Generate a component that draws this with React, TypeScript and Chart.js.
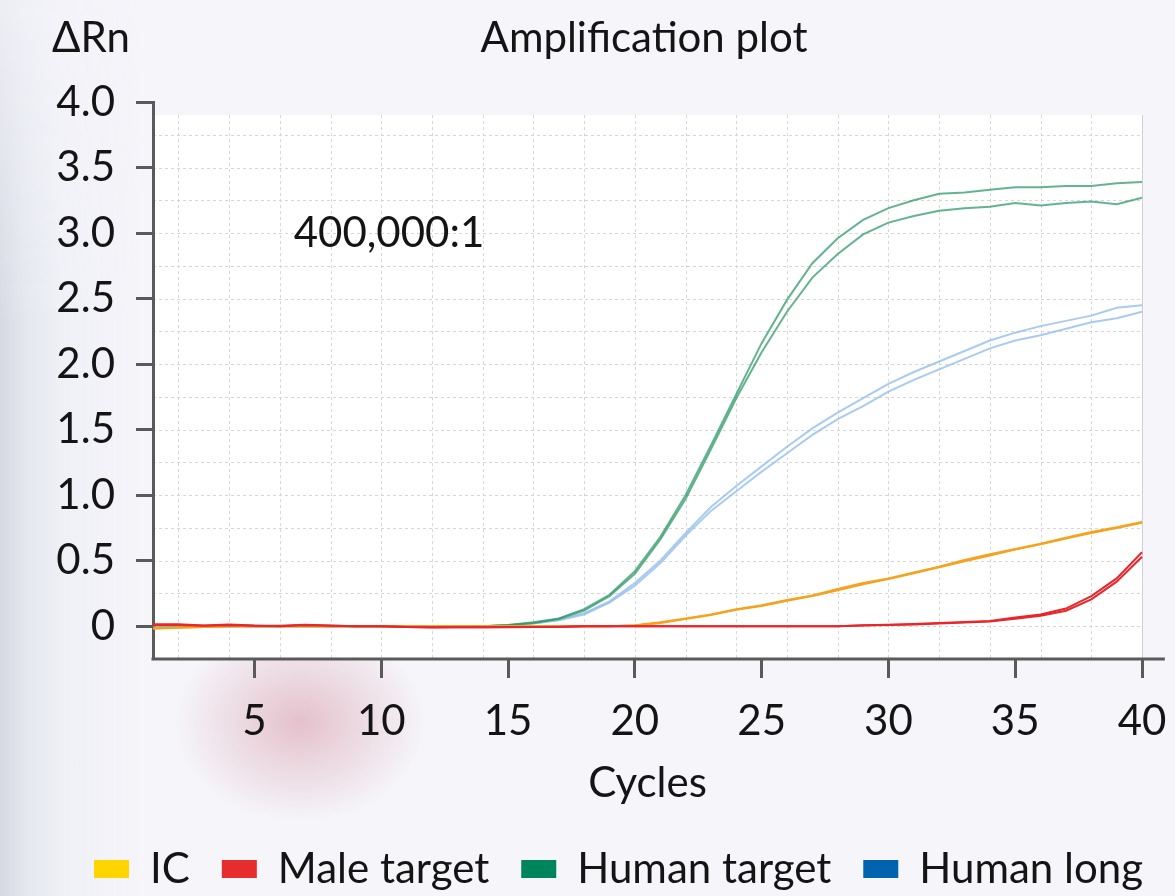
import React, { useEffect, useRef } from 'react';
import { Chart, registerables } from 'chart.js';

Chart.register(...registerables);

// ---------- data ----------
const cycles = [1, 2, 3, 4, 5, 6, 7, 8, 9, 10, 11, 12, 13, 14, 15, 16, 17, 18, 19, 20,
  21, 22, 23, 24, 25, 26, 27, 28, 29, 30, 31, 32, 33, 34, 35, 36, 37, 38, 39, 40];

const humanTargetA = [0.01, 0.01, 0.0, 0.005, 0.0, 0.0, 0.005, 0.0, 0.0, 0.0,
  0.0, -0.005, 0.0, 0.0, 0.01, 0.03, 0.06, 0.13, 0.24, 0.42,
  0.68, 1.0, 1.38, 1.77, 2.16, 2.49, 2.77, 2.96, 3.1, 3.19,
  3.25, 3.3, 3.31, 3.33, 3.35, 3.35, 3.36, 3.36, 3.38, 3.39];
const humanTargetB = [0.005, 0.005, 0.0, 0.0, 0.0, 0.0, 0.0, 0.0, 0.0, 0.0,
  0.0, -0.005, -0.005, 0.0, 0.008, 0.025, 0.055, 0.12, 0.23, 0.4,
  0.66, 0.97, 1.35, 1.74, 2.09, 2.4, 2.66, 2.84, 2.99, 3.08,
  3.13, 3.17, 3.19, 3.2, 3.23, 3.21, 3.23, 3.24, 3.22, 3.27];

const humanLongA = [0.01, 0.005, 0.0, 0.0, 0.0, 0.0, 0.0, 0.0, 0.0, 0.0,
  0.0, -0.005, 0.0, 0.0, 0.01, 0.02, 0.05, 0.1, 0.19, 0.33,
  0.5, 0.71, 0.91, 1.07, 1.22, 1.37, 1.51, 1.63, 1.74, 1.85,
  1.94, 2.02, 2.1, 2.18, 2.24, 2.29, 2.33, 2.37, 2.43, 2.45];
const humanLongB = [0.005, 0.0, 0.0, 0.0, 0.0, 0.0, 0.0, 0.0, 0.0, 0.0,
  0.0, -0.005, -0.005, 0.0, 0.005, 0.02, 0.045, 0.09, 0.18, 0.31,
  0.48, 0.69, 0.88, 1.03, 1.18, 1.32, 1.46, 1.58, 1.68, 1.79,
  1.88, 1.96, 2.04, 2.12, 2.18, 2.22, 2.27, 2.32, 2.35, 2.4];

const icA = [-0.02, -0.012, -0.005, 0.0, 0.0, 0.0, 0.0, 0.0, 0.0, 0.0,
  0.0, 0.0, 0.0, 0.0, 0.0, 0.0, 0.0, 0.0, 0.0, 0.008,
  0.03, 0.06, 0.09, 0.13, 0.16, 0.2, 0.235, 0.285, 0.33, 0.365,
  0.41, 0.455, 0.505, 0.55, 0.59, 0.63, 0.675, 0.72, 0.755, 0.795];
const icB = [-0.015, -0.01, -0.005, 0.0, 0.0, 0.0, 0.0, 0.0, 0.0, 0.0,
  0.0, 0.0, 0.0, 0.0, 0.0, 0.0, 0.0, 0.0, 0.0, 0.005,
  0.025, 0.055, 0.085, 0.125, 0.155, 0.195, 0.23, 0.275, 0.32, 0.36,
  0.405, 0.45, 0.495, 0.54, 0.585, 0.625, 0.67, 0.712, 0.75, 0.79];

const maleA = [0.015, 0.015, 0.005, 0.013, 0.005, 0.003, 0.012, 0.005, 0.0, 0.0,
  -0.005, -0.01, -0.008, -0.008, -0.008, -0.006, -0.005, 0.0, 0.0, 0.0,
  0.0, 0.0, 0.0, 0.0, 0.0, 0.0, 0.0, 0.0, 0.008, 0.012,
  0.017, 0.024, 0.032, 0.04, 0.066, 0.09, 0.135, 0.23, 0.365, 0.565];
const maleB = [0.01, 0.01, 0.003, 0.008, 0.003, 0.0, 0.008, 0.003, 0.0, 0.0,
  -0.005, -0.008, -0.008, -0.008, -0.006, -0.005, -0.004, 0.0, 0.0, 0.0,
  0.0, 0.0, 0.0, 0.0, 0.0, 0.0, 0.0, 0.0, 0.005, 0.01,
  0.014, 0.02, 0.028, 0.036, 0.058, 0.08, 0.118, 0.205, 0.34, 0.53];

const legendNames = ['IC', 'Male target', 'Human target', 'Human long'];
const xTickValues = [5, 10, 15, 20, 25, 30, 35, 40];
const yTickValues = [0, 0.5, 1.0, 1.5, 2.0, 2.5, 3.0, 3.5, 4.0];
const xGridValues = [2, 4, 6, 8, 10, 12, 14, 16, 18, 20, 22, 24, 26, 28, 30, 32, 34, 36, 38, 40];
const yGridValues = [0, 0.25, 0.5, 0.75, 1.0, 1.25, 1.5, 1.75, 2.0, 2.25, 2.5, 2.75, 3.0, 3.25, 3.5, 3.75];

const chartTitle = 'Amplification plot';
const yAxisTitle = '\u0394Rn';
const xAxisTitle = 'Cycles';
const annotationText = '400,000:1';

// ---------- styles ----------
const FONT = "Lato, 'Noto Sans', sans-serif";
const TEXT = '#141414';
const AXIS = '#5a5a5a';
const legendColors = ['#FFD500', '#E52D2D', '#00855A', '#0063B0'];
const lineColors = ['#F5A21F', '#E8262C', 'rgba(40,150,100,0.72)', 'rgba(140,185,235,0.75)'];
const X_MIN = 1, X_MAX = 41.3, X_PLOT_END = 40, X_AXIS_END = 40.9;
const Y_MIN = -0.25, Y_MAX = 4.0, Y_PLOT_TOP = 3.9;
const ANNOT_X = 6.55, ANNOT_Y = 2.89;
const LEGEND_SHIFT = 31;

const pts = (vals: number[]) => cycles.map((c, i) => ({ x: c, y: vals[i] }));

const decorPlugin = {
  id: 'decor',
  afterLayout(chart: any) {
    const lg = chart.legend;
    if (lg) { lg.left += LEGEND_SHIFT; lg.right += LEGEND_SHIFT; }
  },
  beforeDraw(chart: any) {
    const { ctx } = chart;
    const xs = chart.scales.x, ys = chart.scales.y;
    const l = xs.getPixelForValue(X_MIN), r = xs.getPixelForValue(X_PLOT_END);
    const t = ys.getPixelForValue(Y_PLOT_TOP), b = ys.getPixelForValue(Y_MIN);
    ctx.save();
    ctx.fillStyle = '#ffffff';
    ctx.fillRect(l, t, r - l, b - t);
    ctx.strokeStyle = '#d6d6d6';
    ctx.lineWidth = 1;
    ctx.setLineDash([3, 3]);
    for (const v of yGridValues) {
      const y = Math.round(ys.getPixelForValue(v)) + 0.5;
      ctx.beginPath(); ctx.moveTo(l, y); ctx.lineTo(r, y); ctx.stroke();
    }
    for (const v of xGridValues) {
      const x = Math.round(xs.getPixelForValue(v)) + 0.5;
      if (v === X_PLOT_END) continue;
      ctx.beginPath(); ctx.moveTo(x, t); ctx.lineTo(x, b); ctx.stroke();
    }
    ctx.setLineDash([]);
    ctx.strokeStyle = '#cfcfd4';
    const xe = Math.round(r) + 0.5;
    ctx.beginPath(); ctx.moveTo(xe, t); ctx.lineTo(xe, b); ctx.stroke();
    ctx.restore();
  },
  afterDraw(chart: any) {
    const { ctx } = chart;
    const xs = chart.scales.x, ys = chart.scales.y;
    ctx.save();
    // x axis line (ends a little past the last cycle)
    ctx.strokeStyle = AXIS;
    ctx.lineWidth = 3;
    const yb = ys.getPixelForValue(Y_MIN);
    ctx.beginPath();
    ctx.moveTo(xs.getPixelForValue(X_MIN) - 1.5, yb);
    ctx.lineTo(xs.getPixelForValue(X_AXIS_END), yb);
    ctx.stroke();

    ctx.fillStyle = TEXT;
    ctx.textBaseline = 'alphabetic';
    ctx.font = `42px ${FONT}`;
    ctx.textAlign = 'left';
    ctx.fillText(yAxisTitle, 52, 52);
    ctx.textAlign = 'center';
    ctx.fillText(chartTitle, 644, 52);
    const cx = (xs.getPixelForValue(X_MIN) + xs.getPixelForValue(X_PLOT_END)) / 2;
    ctx.fillText(xAxisTitle, cx, 797);
    ctx.textAlign = 'left';
    ctx.fillText(annotationText, xs.getPixelForValue(ANNOT_X), ys.getPixelForValue(ANNOT_Y));
    ctx.restore();
  },
};

export default function App() {
  const ref = useRef<HTMLCanvasElement>(null);
  useEffect(() => {
    if (!ref.current) return;
    const mk = (label: string, vals: number[], color: string, order: number) => ({
      label, data: pts(vals), borderColor: color, backgroundColor: color,
      borderWidth: 2, pointRadius: 0, tension: 0, order, fill: false,
    });
    const chart = new Chart(ref.current, {
      type: 'line',
      data: {
        datasets: [
          mk(legendNames[0], icA, lineColors[0], 1),
          mk(legendNames[0], icB, lineColors[0], 1),
          mk(legendNames[1], maleA, lineColors[1], 0),
          mk(legendNames[1], maleB, lineColors[1], 0),
          mk(legendNames[2], humanTargetA, lineColors[2], 2),
          mk(legendNames[2], humanTargetB, lineColors[2], 2),
          mk(legendNames[3], humanLongA, lineColors[3], 3),
          mk(legendNames[3], humanLongB, lineColors[3], 3),
        ] as any,
      },
      options: {
        responsive: false,
        animation: false,
        events: [],
        layout: { padding: { top: 102, right: 0, left: 0, bottom: -4 } },
        scales: {
          x: {
            type: 'linear', min: X_MIN, max: X_MAX,
            afterBuildTicks: (s: any) => { s.ticks = xTickValues.map((v) => ({ value: v })); },
            afterFit: (s: any) => { s.height = 157; s.paddingLeft = 0; s.paddingRight = 0; },
            grid: { drawOnChartArea: false, drawTicks: true, tickLength: 19, tickWidth: 3, tickColor: AXIS, color: AXIS },
            border: { display: false },
            ticks: { font: { family: FONT, size: 42 }, color: TEXT, padding: 18, maxRotation: 0, autoSkip: false, callback: (v: any) => String(v) },
          },
          y: {
            type: 'linear', min: Y_MIN, max: Y_MAX,
            afterBuildTicks: (s: any) => { s.ticks = yTickValues.map((v) => ({ value: v })); },
            afterFit: (s: any) => { s.width = 153; },
            grid: { drawOnChartArea: false, drawTicks: true, tickLength: 17, tickWidth: 3, tickColor: AXIS, color: AXIS },
            border: { display: true, color: AXIS, width: 3 },
            ticks: { font: { family: FONT, size: 42 }, color: TEXT, padding: 21, autoSkip: false, callback: (v: any) => (v === 0 ? '0' : Number(v).toFixed(1)) },
          },
        },
        plugins: {
          tooltip: { enabled: false },
          title: { display: false },
          legend: {
            display: true,
            position: 'bottom',
            labels: {
              font: { family: FONT, size: 42 },
              color: TEXT,
              boxWidth: 35,
              boxHeight: 18,
              padding: 32,
              generateLabels: () => legendNames.map((n, i) => ({
                text: n, fillStyle: legendColors[i], strokeStyle: legendColors[i],
                lineWidth: 0, hidden: false, datasetIndex: i * 2, fontColor: TEXT,
              })),
            },
          },
        },
      } as any,
      plugins: [decorPlugin],
    });
    return () => chart.destroy();
  }, []);

  const shade = 'linear-gradient(to bottom, rgba(0,0,0,0.25) 0px, rgba(0,0,0,0.6) 160px, #000 320px, #000 100%)';
  return (
    <div
      style={{
        position: 'absolute', left: 0, top: 0, width: 1175, height: 896, overflow: 'hidden',
        background: '#f5f5fa',
      }}
    >
      <div
        style={{
          position: 'absolute', left: 0, top: 0, width: 160, height: 896,
          background: 'linear-gradient(to right, #d6d9e4 0px, #e4e7ef 25px, #eff0f6 60px, rgba(245,245,250,0) 140px)',
          WebkitMaskImage: shade, maskImage: shade,
        } as any}
      />
      <div
        style={{
          position: 'absolute', left: 0, top: 0, width: 1175, height: 896,
          background: 'radial-gradient(ellipse 125px 100px at 300px 722px, rgba(214,150,165,0.55), rgba(214,150,165,0) 100%)',
        }}
      />
      <canvas ref={ref} width={1175} height={896} style={{ display: 'block', position: 'relative' }} />
    </div>
  );
}
